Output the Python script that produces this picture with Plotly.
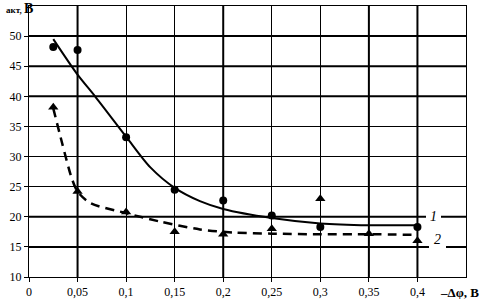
import plotly.graph_objects as go

# measured points
pts1_x = [0.025, 0.05, 0.1, 0.15, 0.2, 0.25, 0.3, 0.4]
pts1_y = [48.2, 47.7, 33.2, 24.5, 22.7, 20.2, 18.3, 18.3]
pts2_x = [0.025, 0.05, 0.1, 0.15, 0.2, 0.25, 0.3, 0.35, 0.4]
pts2_y = [38.2, 24.2, 20.8, 17.5, 17.1, 18.0, 23.0, 17.2, 16.0]

# approximating curves
curve1_x = [0.025, 0.05, 0.068, 0.1, 0.125, 0.15, 0.176, 0.2, 0.25, 0.3, 0.35, 0.4]
curve1_y = [49.5, 43.6, 40.0, 33.3, 28.2, 24.8, 22.6, 21.3, 19.8, 18.9, 18.6, 18.6]
curve2_x = [0.025, 0.034, 0.044, 0.05, 0.063, 0.1, 0.135, 0.176, 0.21, 0.25, 0.3, 0.35, 0.4]
curve2_y = [38.0, 32.3, 26.4, 24.2, 22.3, 20.6, 19.2, 17.9, 17.4, 17.2, 17.1, 17.1, 17.0]

x_tick_vals = [0, 0.05, 0.1, 0.15, 0.2, 0.25, 0.3, 0.35, 0.4]
x_tick_text = ["0", "0,05", "0,1", "0,15", "0,2", "0,25", "0,3", "0,35", "0,4"]
y_tick_vals = [10, 15, 20, 25, 30, 35, 40, 45, 50]
y_tick_text = ["10", "15", "20", "25", "30", "35", "40", "45", "50"]

curve_labels = ["1", "2"]
y_title_sub = "акт, "
y_title_unit = "В"
x_title = "–Δφ, В"

FONT = "Liberation Serif"

fig = go.Figure()
fig.add_trace(go.Scatter(x=curve1_x, y=curve1_y, mode="lines",
                         line=dict(color="black", width=2, shape="spline", smoothing=0.8),
                         hoverinfo="skip"))
fig.add_trace(go.Scatter(x=curve2_x, y=curve2_y, mode="lines",
                         line=dict(color="black", width=2.5, dash="9px,6px", shape="spline", smoothing=0.8),
                         hoverinfo="skip"))
fig.add_trace(go.Scatter(x=pts1_x, y=pts1_y, mode="markers",
                         marker=dict(symbol="circle", size=8, color="black")))
fig.add_trace(go.Scatter(x=pts2_x, y=pts2_y, mode="markers",
                         marker=dict(symbol="triangle-up", size=9, color="black")))

# thicker grid lines (style)
shapes = []
for xv in [0.05, 0.2, 0.35, 0.4]:
    shapes.append(dict(type="line", xref="x", yref="paper", x0=xv, x1=xv, y0=0, y1=1,
                       line=dict(color="black", width=2), layer="below"))
for yv in [50, 45, 40, 20, 15]:
    shapes.append(dict(type="line", xref="paper", yref="y", x0=0, x1=1, y0=yv, y1=yv,
                       line=dict(color="black", width=2), layer="below"))

annotations = [
    dict(x=0.4165, y=20.0, xref="x", yref="y", text=curve_labels[0], showarrow=False,
         font=dict(family=FONT, size=14, color="black", style="italic"),
         bgcolor="white", borderpad=4, borderwidth=0),
    dict(x=0.4205, y=16.3, xref="x", yref="y", text=curve_labels[1], showarrow=False,
         font=dict(family=FONT, size=14, color="black", style="italic"),
         bgcolor="white", borderpad=5, borderwidth=0),
    dict(x=(35 - 29) / 437, y=(277 - 8) / 271, xref="paper", yref="paper",
         xanchor="right", yanchor="middle", showarrow=False,
         text="<span style='font-size:9px'><b>" + y_title_sub + "</b></span><b>" + y_title_unit + "</b>",
         font=dict(family=FONT, size=14, color="black")),
    dict(x=(481 - 29) / 437, y=(277 - 292) / 271, xref="paper", yref="paper",
         xanchor="right", yanchor="middle", showarrow=False,
         text="<b>" + x_title + "</b>",
         font=dict(family=FONT, size=13, color="black")),
]

fig.update_layout(
    width=481, height=299,
    margin=dict(l=29, r=15, t=6, b=22, pad=0, autoexpand=False),
    paper_bgcolor="white", plot_bgcolor="white",
    showlegend=False,
    shapes=shapes,
    annotations=annotations,
    font=dict(family=FONT, size=12, color="black"),
    xaxis=dict(range=[0, 0.45], tickvals=x_tick_vals, ticktext=x_tick_text,
               showgrid=True, gridcolor="black", gridwidth=1, automargin=False,
               showline=True, linecolor="black", linewidth=1, mirror=True,
               ticks="outside", ticklen=4, tickcolor="black", zeroline=False,
               tickfont=dict(family=FONT, size=12)),
    yaxis=dict(range=[10, 55], tickvals=y_tick_vals, ticktext=y_tick_text,
               showgrid=True, gridcolor="black", gridwidth=1, automargin=False,
               showline=True, linecolor="black", linewidth=1, mirror=True,
               ticks="outside", ticklen=4, tickcolor="black", zeroline=False,
               tickfont=dict(family=FONT, size=12)),
)

fig.write_html("out.html", config={"displayModeBar": False},
               post_script="document.body.style.margin='0';")
